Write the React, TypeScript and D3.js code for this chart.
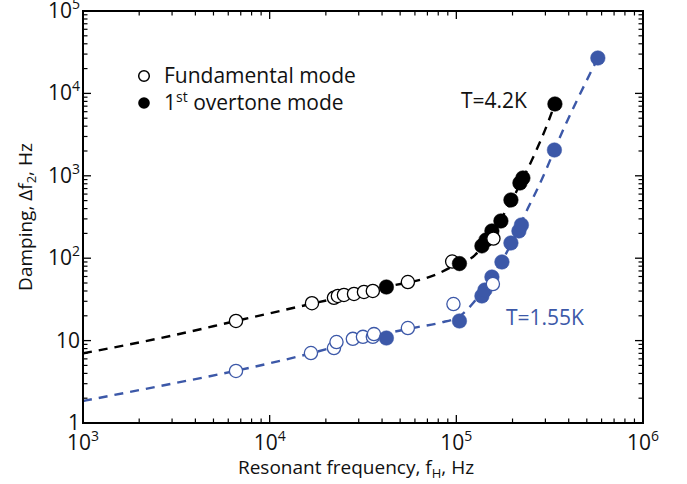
import React from "react";
import * as d3 from "d3";

// ---- data (frequency Hz, damping Hz) ----
const fund42F = [6600, 16850, 22100, 23200, 25000, 28300, 32000, 35700, 55000, 95000, 158000];
const fund42D = [17.3, 28.4, 33, 34.8, 35.8, 36.8, 38.9, 40, 51.4, 91, 173];
const over42F = [42200, 103900, 137100, 144100, 155100, 173300, 196100, 219100, 227300, 337400];
const over42D = [44.7, 86, 141, 166, 214, 283, 509, 818, 940, 7436];
const fund155F = [6600, 16640, 22100, 22800, 27900, 31600, 35700, 36200, 55000, 96500, 157000];
const fund155D = [4.28, 7.07, 8.13, 9.6, 10.5, 11.1, 11.1, 12.0, 14.2, 27.8, 48.6];
const over155F = [42200, 103900, 137100, 142300, 155100, 175500, 196100, 216400, 223200, 335300, 573000];
const over155D = [10.75, 17.3, 34.8, 41.1, 59.1, 90, 153, 214, 253, 2056, 26890];

const fit42F = [1000, 3000, 6600, 16800, 42000, 78700, 100000, 125800, 150000, 175000, 200000, 220000, 254000, 309000, 337000];
const fit42D = [7.0, 11.5, 17.3, 28, 44.7, 64, 84, 109, 185, 310, 520, 800, 1555, 4370, 7436];
const fit155F = [1000, 3000, 6600, 16600, 36000, 62000, 82000, 105000, 123000, 150000, 175000, 200000, 242000, 270000, 302000, 335000, 573000];
const fit155D = [1.85, 3.0, 4.3, 7.0, 11.3, 14.6, 16.5, 20, 28.6, 55, 92, 160, 406, 672, 1175, 2056, 26890];

const xMajor = [1e3, 1e4, 1e5, 1e6];
const xExp = ["3", "4", "5", "6"];
const yMajor = [1, 10, 1e2, 1e3, 1e4, 1e5];
const yBase = ["1", "10", "10", "10", "10", "10"];
const yExp = ["", "", "2", "3", "4", "5"];

const BLUE = "#3c58a8";
const FONT = "'Open Sans', 'Noto Sans', sans-serif";

export default function App() {
  const L = 83, R = 643, T = 11, B = 423;
  const x = d3.scaleLog().domain([1e3, 1e6]).range([L, R]);
  const y = d3.scaleLog().domain([1, 1e5]).range([B, T]);

  const minorX: number[] = [];
  for (let e = 3; e < 6; e++) for (let m = 2; m <= 9; m++) minorX.push(m * Math.pow(10, e));
  const minorY: number[] = [];
  for (let e = 0; e < 5; e++) for (let m = 2; m <= 9; m++) minorY.push(m * Math.pow(10, e));

  const line = d3
    .line<[number, number]>()
    .x((d) => x(d[0]))
    .y((d) => y(d[1]))
    .curve(d3.curveMonotoneX);

  const fit42 = fit42F.map((f, i) => [f, fit42D[i]] as [number, number]);
  const fit155 = fit155F.map((f, i) => [f, fit155D[i]] as [number, number]);

  type P = { f: number; d: number; filled: boolean; color: string };
  const pts: P[] = [];
  fund42F.forEach((f, i) => pts.push({ f, d: fund42D[i], filled: false, color: "#000" }));
  over42F.forEach((f, i) => pts.push({ f, d: over42D[i], filled: true, color: "#000" }));
  fund155F.forEach((f, i) => pts.push({ f, d: fund155D[i], filled: false, color: BLUE }));
  over155F.forEach((f, i) => pts.push({ f, d: over155D[i], filled: true, color: BLUE }));
  pts.sort((a, b) => a.f - b.f);

  const MAJ = 8, MIN = 4.5;

  return (
    <svg width={687} height={484} style={{ position: "absolute", left: 0, top: 0 }} fontFamily={FONT}>
      <rect x={0} y={0} width={687} height={484} fill="#fff" />
      {/* fits */}
      <path d={line(fit42) || ""} fill="none" stroke="#000" strokeWidth={2.4} strokeDasharray="9 7" />
      <path d={line(fit155) || ""} fill="none" stroke={BLUE} strokeWidth={2.4} strokeDasharray="9 7" />
      {/* points */}
      {pts.map((p, i) => (
        <circle
          key={i}
          cx={x(p.f)}
          cy={y(p.d)}
          r={p.filled ? 7.3 : 6.6}
          fill={p.filled ? p.color : "#fff"}
          stroke={p.color}
          strokeWidth={p.filled ? 0.5 : 1.3}
        />
      ))}
      {/* frame */}
      <rect x={L} y={T} width={R - L} height={B - T} fill="none" stroke="#000" strokeWidth={2} />
      {/* x ticks bottom & top */}
      {xMajor.map((v, i) => (
        <g key={"xm" + i}>
          <line x1={x(v)} x2={x(v)} y1={B} y2={B - MAJ} stroke="#000" strokeWidth={1.3} />
          <line x1={x(v)} x2={x(v)} y1={T} y2={T + MAJ} stroke="#000" strokeWidth={1.3} />
        </g>
      ))}
      {minorX.map((v, i) => (
        <g key={"xn" + i}>
          <line x1={x(v)} x2={x(v)} y1={B} y2={B - MIN} stroke="#000" strokeWidth={1.2} />
          <line x1={x(v)} x2={x(v)} y1={T} y2={T + MIN} stroke="#000" strokeWidth={1.2} />
        </g>
      ))}
      {yMajor.map((v, i) => (
        <g key={"ym" + i}>
          <line x1={L} x2={L + MAJ} y1={y(v)} y2={y(v)} stroke="#000" strokeWidth={1.3} />
          <line x1={R} x2={R - MAJ} y1={y(v)} y2={y(v)} stroke="#000" strokeWidth={1.3} />
        </g>
      ))}
      {minorY.map((v, i) => (
        <g key={"yn" + i}>
          <line x1={L} x2={L + MIN} y1={y(v)} y2={y(v)} stroke="#000" strokeWidth={1.2} />
          <line x1={R} x2={R - MIN} y1={y(v)} y2={y(v)} stroke="#000" strokeWidth={1.2} />
        </g>
      ))}
      {/* x tick labels */}
      {xMajor.map((v, i) => (
        <text key={"xl" + i} x={x(v)} y={B + 27} textAnchor="middle" fontSize={21} fill="#111">
          10<tspan dy={-9} fontSize={14}>{xExp[i]}</tspan>
        </text>
      ))}
      {/* y tick labels */}
      {yMajor.map((v, i) => (
        <text key={"yl" + i} x={L - 3} y={y(v) + 7} textAnchor="end" fontSize={21} fill="#111">
          {yBase[i]}
          {yExp[i] ? <tspan dy={-9} fontSize={14}>{yExp[i]}</tspan> : null}
        </text>
      ))}
      {/* axis titles */}
      <text x={356} y={474} textAnchor="middle" fontSize={19} fill="#111">
        Resonant frequency, f<tspan dy={4} fontSize={13}>H</tspan><tspan dy={-4}>, Hz</tspan>
      </text>
      <text transform={`translate(32,${(T + B) / 2}) rotate(-90)`} textAnchor="middle" fontSize={19} fill="#111">
        Damping, Δf<tspan dy={4} fontSize={13}>2</tspan><tspan dy={-4}>, Hz</tspan>
      </text>
      {/* legend */}
      <circle cx={144} cy={76} r={5.3} fill="#fff" stroke="#000" strokeWidth={1.5} />
      <text x={164} y={83} fontSize={21} fill="#111">Fundamental mode</text>
      <circle cx={144} cy={103} r={5.8} fill="#000" />
      <text x={164} y={110} fontSize={21} fill="#111">
        1<tspan dy={-8} fontSize={14}>st</tspan><tspan dy={8}> overtone mode</tspan>
      </text>
      {/* annotations */}
      <text x={461} y={108} fontSize={21} fill="#111">T=4.2K</text>
      <text x={506} y={325} fontSize={21} fill={BLUE}>T=1.55K</text>
    </svg>
  );
}
